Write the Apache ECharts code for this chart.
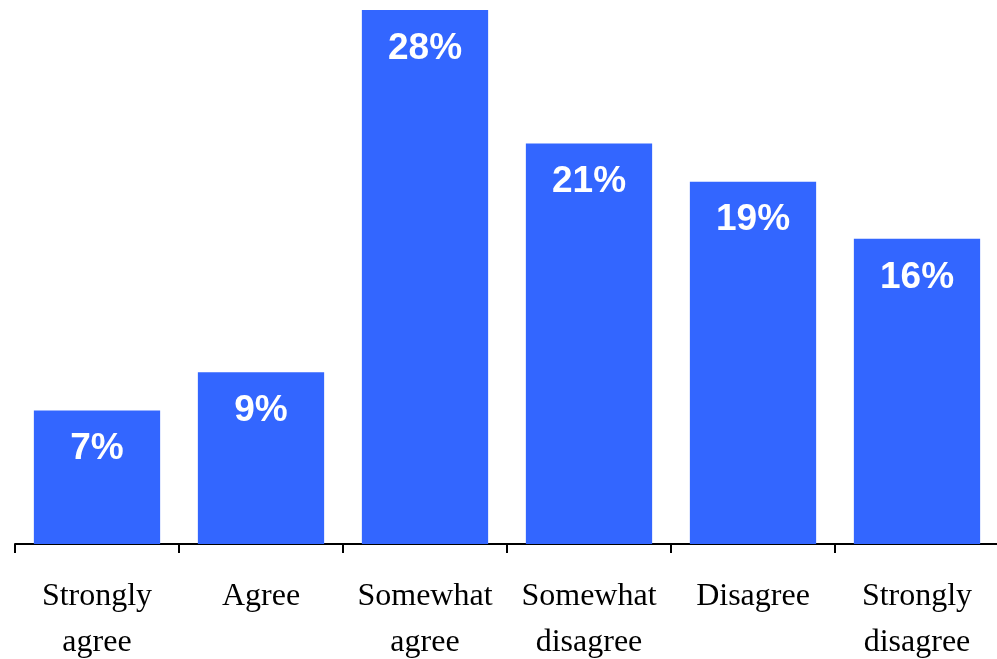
<!DOCTYPE html>
<html>
<head>
<meta charset="utf-8">
<script src="https://cdn.jsdelivr.net/npm/echarts@6/dist/echarts.min.js"></script>
<style>
  html, body { margin: 0; padding: 0; background: #ffffff; }
  #chart { width: 997px; height: 659px; }
</style>
</head>
<body>
<div id="chart"></div>
<script>
// Survey response categories and share of respondents (%)
const categories = [
  'Strongly\nagree',
  'Agree',
  'Somewhat\nagree',
  'Somewhat\ndisagree',
  'Disagree',
  'Strongly\ndisagree'
];
const shares = [7, 9, 28, 21, 19, 16];

const chart = echarts.init(document.getElementById('chart'));
chart.setOption({
  animation: false,
  backgroundColor: '#ffffff',
  grid: {
    left: 15, right: -2, top: 10, bottom: 115,
    containLabel: false,
    outerBoundsMode: 'none'
  },
  xAxis: {
    type: 'category',
    data: categories,
    axisLine: { show: true, lineStyle: { color: '#000000', width: 2 } },
    axisTick: { show: true, alignWithLabel: false, length: 9, lineStyle: { color: '#000000', width: 2 } },
    axisLabel: {
      margin: 30,
      interval: 0,
      color: '#000000',
      fontFamily: '"Liberation Serif", "DejaVu Serif", serif',
      fontSize: 32,
      lineHeight: 46
    }
  },
  yAxis: {
    type: 'value',
    min: 0,
    max: 28,
    show: false,
    splitLine: { show: false }
  },
  series: [{
    type: 'bar',
    data: shares,
    barWidth: '77%',
    itemStyle: { color: '#3366FF' },
    label: {
      show: true,
      position: 'insideTop',
      distance: 20,
      formatter: p => p.value + '%',
      color: '#ffffff',
      fontFamily: '"Liberation Sans", Arial, sans-serif',
      fontWeight: 'bold',
      fontSize: 37
    }
  }]
});
</script>
</body>
</html>
